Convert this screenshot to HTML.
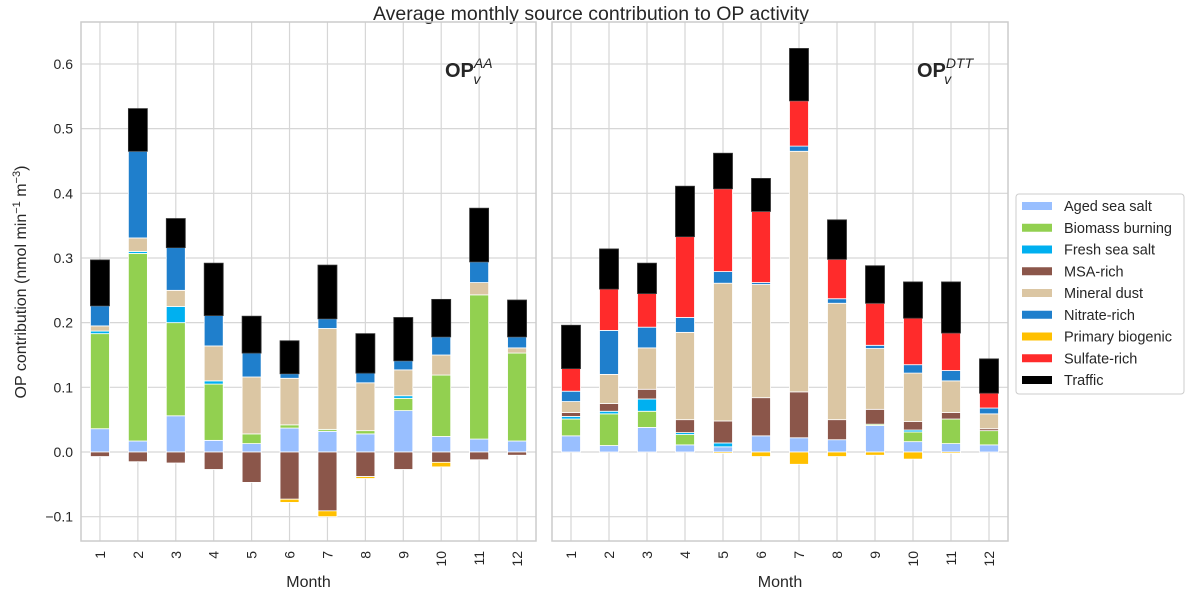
<!DOCTYPE html>
<html><head><meta charset="utf-8"><style>
body{margin:0;background:#fff;}
svg{display:block;font-family:"Liberation Sans",sans-serif;}
</style></head><body>
<svg id="chart" width="1196" height="595" viewBox="0 0 1196 595">
<text x="591" y="20" text-anchor="middle" font-size="19.5" fill="#262626">Average monthly source contribution to OP activity</text>
<text transform="translate(26,282) rotate(-90)" text-anchor="middle" font-size="16" fill="#262626">OP contribution (nmol min<tspan dy="-6" font-size="11">−1</tspan><tspan dy="6"> m</tspan><tspan dy="-6" font-size="11">−3</tspan><tspan dy="6">)</tspan></text>
<g id="panels"></g>
<g id="legend"></g>
</svg>
<script>
const months = ["1","2","3","4","5","6","7","8","9","10","11","12"];
const sources = ["Aged sea salt","Biomass burning","Fresh sea salt","MSA-rich","Mineral dust","Nitrate-rich","Primary biogenic","Sulfate-rich","Traffic"];
const colors = ["#99bfff","#92d050","#00b0f0","#8b564a","#dbc6a3","#1f7fcc","#ffc000","#ff2b2b","#000000"];
const yTicks = [-0.1,0,0.1,0.2,0.3,0.4,0.5,0.6];
// OPv AA
const aaAged  = [.036,.017,.056,.018,.013,.037,.032,.028,.064,.024,.020,.017];
const aaBio   = [.147,.290,.144,.087,.015,.005,.003,.005,.019,.095,.223,.136];
const aaFresh = [.004,.003,.025,.005,0,0,0,0,.004,0,0,0];
const aaMsa   = [-.007,-.015,-.017,-.027,-.047,-.073,-.091,-.038,-.027,-.016,-.012,-.005];
const aaDust  = [.008,.021,.025,.054,.088,.072,.156,.074,.040,.031,.019,.008];
const aaNitr  = [.031,.134,.066,.047,.037,.007,.015,.015,.014,.028,.032,.017];
const aaPb    = [0,0,0,0,0,-.005,-.009,-.003,0,-.007,0,0];
const aaSulf  = [0,0,0,0,0,0,0,0,0,0,0,0];
const aaTraf  = [.071,.066,.045,.081,.057,.051,.083,.061,.067,.058,.083,.057];
// OPv DTT
const dtAged  = [.025,.010,.038,.011,.008,.025,.022,.019,.041,.016,.013,.011];
const dtBio   = [.026,.049,.025,.016,0,0,0,0,.002,.015,.038,.022];
const dtFresh = [.004,.004,.019,.003,.006,0,0,0,0,.003,0,0];
const dtMsa   = [.006,.012,.015,.020,.034,.059,.071,.031,.023,.013,.010,.003];
const dtDust  = [.017,.045,.064,.135,.213,.175,.372,.180,.094,.075,.049,.023];
const dtNitr  = [.016,.068,.032,.023,.018,.003,.008,.007,.005,.013,.016,.009];
const dtPb    = [0,0,0,0,-.002,-.007,-.019,-.007,-.005,-.011,-.002,0];
const dtSulf  = [.035,.064,.052,.125,.128,.110,.070,.061,.065,.072,.058,.023];
const dtTraf  = [.067,.062,.047,.078,.055,.051,.081,.061,.058,.056,.079,.053];

const NS="http://www.w3.org/2000/svg";
function mk(tag,attrs,parent){const e=document.createElementNS(NS,tag);for(const k in attrs)e.setAttribute(k,attrs[k]);parent.appendChild(e);return e;}
const yTop=22,yBot=541;
function yScale(v){return 452-v*646.7;}
const panelsG=document.getElementById('panels');
const panels=[
 {name:'aa',x0:81,x1:536,labels:true,series:[aaAged,aaBio,aaFresh,aaMsa,aaDust,aaNitr,aaPb,aaSulf,aaTraf],ann:'AA',annX:445},
 {name:'dtt',x0:552,x1:1008,labels:false,series:[dtAged,dtBio,dtFresh,dtMsa,dtDust,dtNitr,dtPb,dtSulf,dtTraf],ann:'DTT',annX:917}
];
panels.forEach(p=>{
  const g=mk('g',{},panelsG);
  
  
  const band=(p.x1-p.x0)/months.length;
  const xScale=i=>p.x0+(i+0.5)*band;
  yTicks.forEach(t=>{
    const y=yScale(t);
    const l=mk('line',{x1:p.x0,x2:p.x1,y1:y,y2:y,stroke:'#d6d6d6','stroke-width':1.2},g);
    
    
    if(p.labels){
      const tx=mk('text',{x:p.x0-8,y:y+5,'text-anchor':'end','font-size':14,fill:'#262626'},g);
      tx.textContent=t.toFixed(1).replace('-','−');
      
      
    }
  });
  months.forEach((m,i)=>{
    const x=xScale(i);
    const l=mk('line',{x1:x,x2:x,y1:yTop,y2:yBot,stroke:'#d6d6d6','stroke-width':1.2},g);
    
    
    const tx=mk('text',{transform:`translate(${x+5},${yBot+10}) rotate(-90)`,'text-anchor':'end','font-size':14,fill:'#262626'},g);
    tx.textContent=m;
    
    
  });
  const bw=19;
  months.forEach((m,i)=>{
    let pos=0,neg=0;
    p.series.forEach((s,k)=>{
      const v=s[i]; if(!v) return;
      let a,b;
      if(v>0){a=pos;b=pos+v;pos=b;} else {a=neg;b=neg+v;neg=b;}
      const y1=yScale(Math.max(a,b)),y2=yScale(Math.min(a,b));
      const r=mk('rect',{x:xScale(i)-bw/2,y:y1,width:bw,height:Math.max(y2-y1,0.5),fill:colors[k],stroke:k===8?'#333':'#fff','stroke-width':0.8},g);
      
      
    });
  });
  const fr=mk('rect',{x:p.x0,y:yTop,width:p.x1-p.x0,height:yBot-yTop,fill:'none',stroke:'#cccccc','stroke-width':1.5},g);
  
  
  const xl=mk('text',{x:(p.x0+p.x1)/2,y:587,'text-anchor':'middle','font-size':16,fill:'#262626'},g);
  xl.textContent='Month';
  
  
  const an=mk('text',{x:p.annX,y:77,'font-size':20,'font-weight':'bold',fill:'#262626'},g);
  an.innerHTML='OP<tspan font-weight="normal" font-style="italic" font-size="14" dy="-9">'+p.ann+'</tspan><tspan font-weight="normal" font-style="italic" font-size="14" dx="-'+(p.ann==='AA'?19:29)+'" dy="16">v</tspan>';
  
  
});
const lg=document.getElementById('legend');
const box=mk('rect',{x:1016,y:194,width:168,height:200,rx:3,fill:'#fff',stroke:'#cccccc','stroke-width':1},lg);


sources.forEach((s,k)=>{
  const cy=206+k*21.75;
  const e=mk('g',{},lg);
  
  
  mk('rect',{x:1022,y:cy-4,width:30,height:8,fill:colors[k]},e);
  const t=mk('text',{x:1064,y:cy+5,'font-size':14.5,fill:'#262626'},e);
  t.textContent=s;
});
</script>
</body></html>
